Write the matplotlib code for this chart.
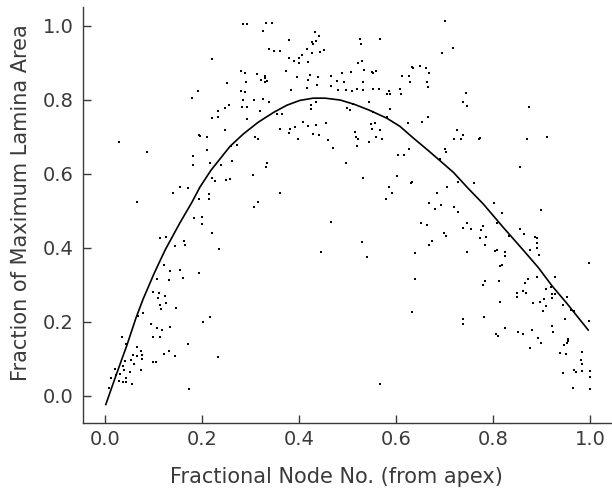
import numpy as np
import matplotlib.pyplot as plt

# fitted curve
curve_x = [0.002, 0.021, 0.038, 0.045, 0.064, 0.079, 0.101, 0.113, 0.125, 0.155,
           0.179, 0.196, 0.219, 0.258, 0.285, 0.316, 0.347, 0.375, 0.402, 0.429,
           0.454, 0.485, 0.515, 0.546, 0.581, 0.608, 0.636, 0.667, 0.718, 0.749,
           0.780, 0.821, 0.862, 0.893, 0.921, 0.952, 0.996]
curve_y = [-0.023, 0.048, 0.110, 0.135, 0.210, 0.262, 0.329, 0.363, 0.396, 0.468,
           0.522, 0.564, 0.610, 0.674, 0.707, 0.739, 0.765, 0.785, 0.798, 0.804,
           0.804, 0.799, 0.787, 0.771, 0.750, 0.728, 0.696, 0.662, 0.604, 0.560,
           0.518, 0.455, 0.394, 0.347, 0.298, 0.250, 0.178]

# observed leaves (fractional node, fraction of max lamina area)
pts = [
    (0.155, 0.565), (0.172, 0.561), (0.140, 0.549), (0.066, 0.524), (0.194, 0.533),
    (0.183, 0.480), (0.200, 0.482), (0.200, 0.465), (0.114, 0.426), (0.126, 0.428),
    (0.163, 0.419), (0.166, 0.408), (0.145, 0.404), (0.121, 0.354), (0.135, 0.338),
    (0.154, 0.340), (0.195, 0.332), (0.107, 0.315), (0.133, 0.313), (0.162, 0.318),
    (0.099, 0.281), (0.111, 0.277), (0.109, 0.264), (0.125, 0.270), (0.114, 0.246),
    (0.126, 0.251), (0.116, 0.234), (0.147, 0.237), (0.078, 0.223), (0.202, 0.200),
    (0.095, 0.195), (0.107, 0.183), (0.117, 0.177), (0.135, 0.185), (0.099, 0.159),
    (0.113, 0.158), (0.036, 0.160), (0.171, 0.140), (0.066, 0.131), (0.074, 0.122),
    (0.059, 0.111), (0.066, 0.108), (0.076, 0.111), (0.122, 0.114), (0.133, 0.122),
    (0.145, 0.108), (0.054, 0.097), (0.076, 0.099), (0.061, 0.087), (0.099, 0.093),
    (0.105, 0.092), (0.041, 0.095), (0.037, 0.081), (0.040, 0.070), (0.051, 0.064),
    (0.074, 0.069), (0.032, 0.059), (0.022, 0.056), (0.044, 0.049), (0.012, 0.048),
    (0.030, 0.041), (0.037, 0.038), (0.043, 0.039), (0.055, 0.031), (0.008, 0.022),
    (0.173, 0.018), (0.068, 0.216), (0.044, 0.140), (0.020, 0.072),
    (0.030, 0.686), (0.086, 0.658), (0.179, 0.805), (0.192, 0.824), (0.181, 0.647),
    (0.181, 0.624), (0.194, 0.705),
    (0.285, 1.004), (0.293, 1.004), (0.332, 1.006), (0.344, 1.006), (0.326, 0.986),
    (0.433, 0.984), (0.441, 0.971), (0.426, 0.955), (0.429, 0.950), (0.436, 0.958),
    (0.379, 0.961), (0.526, 0.963), (0.528, 0.949), (0.567, 0.964), (0.701, 1.012),
    (0.695, 0.925), (0.339, 0.937), (0.348, 0.932), (0.361, 0.932), (0.416, 0.937),
    (0.407, 0.920), (0.426, 0.925), (0.443, 0.928), (0.452, 0.934), (0.221, 0.909),
    (0.380, 0.912), (0.390, 0.904), (0.400, 0.912), (0.401, 0.900), (0.419, 0.901),
    (0.522, 0.899), (0.530, 0.904), (0.280, 0.878), (0.289, 0.871), (0.314, 0.868),
    (0.331, 0.865), (0.331, 0.859), (0.374, 0.878), (0.395, 0.862), (0.423, 0.866),
    (0.419, 0.853), (0.440, 0.860), (0.467, 0.864), (0.479, 0.851), (0.488, 0.871),
    (0.493, 0.849), (0.507, 0.876), (0.533, 0.881), (0.531, 0.849), (0.550, 0.876),
    (0.558, 0.878), (0.553, 0.871), (0.632, 0.887), (0.636, 0.885), (0.649, 0.891),
    (0.661, 0.885), (0.613, 0.865), (0.627, 0.865), (0.667, 0.872), (0.628, 0.847),
    (0.663, 0.847), (0.666, 0.835), (0.251, 0.846), (0.291, 0.847), (0.322, 0.854),
    (0.329, 0.847), (0.280, 0.824), (0.288, 0.822), (0.335, 0.851), (0.383, 0.826),
    (0.417, 0.832), (0.438, 0.840), (0.466, 0.837), (0.481, 0.826), (0.497, 0.826),
    (0.510, 0.824), (0.520, 0.830), (0.531, 0.826), (0.553, 0.828), (0.564, 0.830),
    (0.586, 0.824), (0.581, 0.814), (0.588, 0.814), (0.608, 0.829), (0.610, 0.815),
    (0.234, 0.770), (0.247, 0.777), (0.256, 0.786), (0.220, 0.750), (0.234, 0.752),
    (0.285, 0.799), (0.307, 0.799), (0.282, 0.781), (0.292, 0.779), (0.326, 0.802),
    (0.339, 0.795), (0.320, 0.770), (0.293, 0.748), (0.355, 0.761), (0.366, 0.761),
    (0.425, 0.786), (0.425, 0.775), (0.435, 0.793), (0.498, 0.777), (0.505, 0.772),
    (0.512, 0.788), (0.544, 0.795), (0.552, 0.766), (0.588, 0.775), (0.582, 0.752),
    (0.625, 0.736), (0.654, 0.741), (0.666, 0.754), (0.247, 0.718), (0.309, 0.700),
    (0.316, 0.694), (0.361, 0.721), (0.380, 0.710), (0.381, 0.721), (0.392, 0.725),
    (0.397, 0.695), (0.409, 0.741), (0.418, 0.730), (0.429, 0.707), (0.442, 0.704),
    (0.435, 0.732), (0.456, 0.736), (0.459, 0.691), (0.471, 0.669), (0.515, 0.714),
    (0.518, 0.698), (0.522, 0.695), (0.520, 0.676), (0.544, 0.687), (0.548, 0.734),
    (0.557, 0.737), (0.550, 0.721), (0.559, 0.698), (0.567, 0.718), (0.571, 0.694),
    (0.627, 0.667), (0.605, 0.650), (0.616, 0.651), (0.497, 0.628), (0.211, 0.698),
    (0.211, 0.665), (0.272, 0.678), (0.259, 0.674), (0.263, 0.635), (0.216, 0.628),
    (0.334, 0.629), (0.333, 0.619), (0.196, 0.703), (0.239, 0.624), (0.306, 0.597),
    (0.220, 0.588), (0.227, 0.581), (0.249, 0.584), (0.258, 0.586), (0.531, 0.588),
    (0.603, 0.595), (0.630, 0.576), (0.215, 0.545), (0.215, 0.531), (0.361, 0.547),
    (0.586, 0.563), (0.591, 0.547), (0.579, 0.531), (0.684, 0.549), (0.704, 0.563),
    (0.315, 0.524), (0.307, 0.511), (0.221, 0.439), (0.236, 0.396), (0.467, 0.470),
    (0.529, 0.417), (0.445, 0.389), (0.540, 0.376), (0.216, 0.214), (0.234, 0.105),
    (0.567, 0.032),
    (0.718, 0.939), (0.744, 0.818), (0.739, 0.795), (0.746, 0.783), (0.875, 0.781),
    (0.725, 0.717), (0.720, 0.693), (0.733, 0.695), (0.739, 0.704), (0.770, 0.694),
    (0.773, 0.697), (0.869, 0.693), (0.911, 0.698), (0.701, 0.667), (0.703, 0.660),
    (0.691, 0.639),
    (0.856, 0.619), (0.632, 0.579), (0.631, 0.574), (0.727, 0.579), (0.761, 0.576),
    (0.668, 0.520), (0.692, 0.516), (0.680, 0.505), (0.720, 0.509), (0.728, 0.498),
    (0.801, 0.520), (0.818, 0.493), (0.899, 0.503), (0.651, 0.466), (0.663, 0.462),
    (0.746, 0.468), (0.737, 0.453), (0.754, 0.452), (0.779, 0.458), (0.775, 0.449),
    (0.808, 0.466), (0.699, 0.439), (0.702, 0.431), (0.772, 0.426), (0.786, 0.428),
    (0.674, 0.419), (0.667, 0.408), (0.783, 0.408), (0.832, 0.432), (0.856, 0.450),
    (0.863, 0.437), (0.887, 0.428), (0.891, 0.426), (0.890, 0.412), (0.890, 0.399),
    (0.808, 0.394), (0.804, 0.392), (0.825, 0.390), (0.825, 0.377), (0.876, 0.395),
    (0.895, 0.381), (0.639, 0.387), (0.746, 0.390), (0.997, 0.359), (0.814, 0.352),
    (0.819, 0.354), (0.890, 0.322), (0.927, 0.320), (0.871, 0.315), (0.866, 0.305),
    (0.640, 0.315), (0.784, 0.311), (0.780, 0.300), (0.812, 0.311), (0.850, 0.278),
    (0.850, 0.268), (0.861, 0.284), (0.868, 0.278), (0.909, 0.288), (0.919, 0.295),
    (0.921, 0.276), (0.928, 0.275), (0.952, 0.266), (0.904, 0.261), (0.921, 0.264),
    (0.883, 0.252), (0.897, 0.254), (0.814, 0.254), (0.945, 0.246), (0.910, 0.243),
    (0.902, 0.230), (0.948, 0.207), (0.960, 0.232), (0.966, 0.230), (0.998, 0.203),
    (0.921, 0.189), (0.923, 0.174), (0.632, 0.228), (0.739, 0.207), (0.739, 0.194),
    (0.781, 0.212), (0.825, 0.183), (0.806, 0.168), (0.811, 0.162), (0.852, 0.172),
    (0.861, 0.168), (0.880, 0.178), (0.892, 0.156), (0.898, 0.143), (0.876, 0.129),
    (0.954, 0.153), (0.955, 0.149), (0.953, 0.144), (0.947, 0.138), (0.938, 0.117),
    (0.950, 0.112), (0.983, 0.119), (0.981, 0.096), (0.983, 0.087), (0.945, 0.061),
    (0.967, 0.069), (0.971, 0.066), (0.984, 0.068), (0.999, 0.068), (0.999, 0.051),
    (0.964, 0.022), (0.999, 0.020),
]
node = [p[0] for p in pts]
area = [p[1] for p in pts]

ticks = [0.0, 0.2, 0.4, 0.6, 0.8, 1.0]
grey = '#3a3a3a'

fig = plt.figure(figsize=(6.12, 4.94), dpi=100)
ax = fig.add_axes([0.1356, 0.1437, 0.8644, 0.842])

ax.scatter(node, area, s=3, marker='s', color='black', linewidths=0)
ax.plot(curve_x, curve_y, color='black', lw=1.2)

ax.set_xlim(-0.045, 1.045)
ax.set_ylim(-0.073, 1.05)
ax.set_xticks(ticks)
ax.set_yticks(ticks)
ax.set_xticklabels(['%.1f' % t for t in ticks])
ax.set_yticklabels(['%.1f' % t for t in ticks])

for s in ['top', 'right']:
    ax.spines[s].set_visible(False)
for s in ['left', 'bottom']:
    ax.spines[s].set_color(grey)
    ax.spines[s].set_linewidth(1.0)

ax.tick_params(axis='both', direction='in', length=6, width=1, color=grey,
               labelcolor=grey, labelsize=14)
ax.tick_params(axis='y', pad=7)
ax.tick_params(axis='x', pad=5)

ax.set_xlabel('Fractional Node No. (from apex)', fontsize=15, color=grey)
ax.set_ylabel('Fraction of Maximum Lamina Area', fontsize=15, color=grey)
ax.xaxis.set_label_coords(0.48, -0.105)
ax.yaxis.set_label_coords(-0.098, 0.53)

plt.savefig('out.png', dpi=100)
